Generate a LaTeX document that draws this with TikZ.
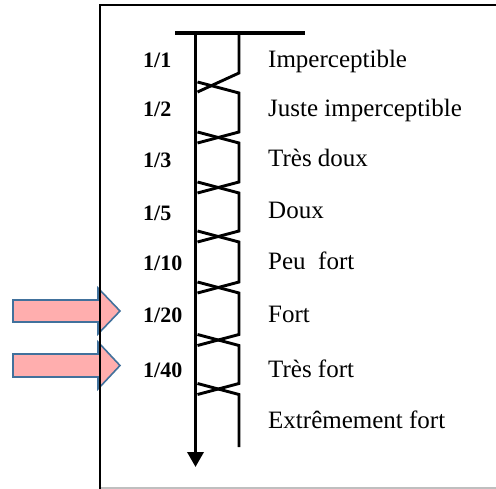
\documentclass[tikz,border=0pt]{standalone}
\usepackage{fontspec}
\setmainfont{Liberation Serif}
\usetikzlibrary{arrows.meta}
\definecolor{arrowpink}{HTML}{FFAEAE}
\definecolor{arrowblue}{HTML}{41719C}
\begin{document}
\begin{tikzpicture}[x=1bp,y=-1bp,
  lab/.style={anchor=base west,inner sep=0pt,font=\fontsize{25bp}{27bp}\selectfont},
  num/.style={anchor=base west,inner sep=0pt,font=\fontsize{22bp}{24bp}\selectfont\bfseries},
  strand/.style={line width=2.9bp,line join=miter},
  pinkarrow/.style={fill=arrowpink,draw=arrowblue,line width=1.6bp,line join=miter}]
\useasboundingbox (0,0) rectangle (496,489);
% pink arrows
\draw[pinkarrow] (13,300)--(98,300)--(98,288)--(120,311)--(98,334)--(98,322)--(13,322)--cycle;
\draw[pinkarrow] (13,354)--(98,354)--(98,342)--(120,365.5)--(98,389)--(98,377)--(13,377)--cycle;
% frame
\draw[black!25,line width=1.5bp] (100,488) -- (496,488);
\draw[line width=2bp] (100,489) -- (100,5) -- (496,5);
% rope
\draw[line width=3.2bp] (175,33) -- (305,33);
\draw[line width=3.4bp,-{Triangle[width=16bp,length=15bp]}] (195.5,33) -- (195.5,467);
\draw[strand] (239,33)--(239,73)--(197.5,92);
\draw[strand] (197.5,82)--(239,93)--(239,132)--(197.5,143);
\draw[strand] (197.5,132)--(239,143)--(239,182)--(197.5,193);
\draw[strand] (197.5,182)--(239,193)--(239,231)--(197.5,242);
\draw[strand] (197.5,231)--(239,242)--(239,282)--(197.5,293);
\draw[strand] (197.5,282)--(239,293)--(239,334.5)--(197.5,345.5);
\draw[strand] (197.5,334.5)--(239,345.5)--(239,383.5)--(197.5,394.5);
\draw[strand] (197.5,383.5)--(239,394.5)--(239,447);
% left labels
\node[num] (n1) at (143,68) {1/1};
\node[num] (n2) at (143,117) {1/2};
\node[num] (n3) at (143,168) {1/3};
\node[num] (n5) at (143,220) {1/5};
\node[num] (n10) at (143,270) {1/10};
\node[num] (n20) at (143,322) {1/20};
\node[num] (n40) at (143,377) {1/40};
% right labels
\node[lab] (l1) at (268,68) {Imperceptible};
\node[lab] (l2) at (268,117) {Juste imperceptible};
\node[lab] (l3) at (268,167) {Très doux};
\node[lab] (l4) at (268,218) {Doux};
\node[lab] (l5) at (268,269) {Peu~~fort};
\node[lab] (l6) at (268,322) {Fort};
\node[lab] (l7) at (268,377) {Très fort};
\node[lab] (l8) at (268,428) {Extrêmement fort};
\end{tikzpicture}
\end{document}
